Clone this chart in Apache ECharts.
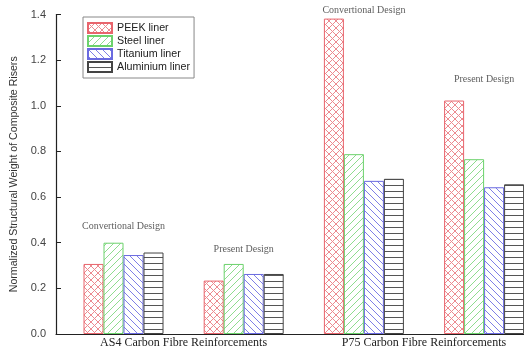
<!DOCTYPE html>
<html>
<head>
<meta charset="utf-8">
<script src="https://cdn.jsdelivr.net/npm/echarts@6/dist/echarts.min.js"></script>
<style>
  html, body { margin: 0; padding: 0; background: #fff; }
  #chart { width: 524px; height: 354px; }
</style>
</head>
<body>
<div id="chart"></div>
<script>
// Group positions along the x axis (one per design case)
const groupPositions = [0, 1, 2, 3];
const designNames = ['Convertional Design', 'Present Design', 'Convertional Design', 'Present Design'];

// Normalized structural weight per liner material
const peekLiner      = [0.307, 0.234, 1.382, 1.023];
const steelLiner     = [0.400, 0.307, 0.788, 0.766];
const titaniumLiner  = [0.346, 0.263, 0.671, 0.643];
const aluminiumLiner = [0.357, 0.263, 0.680, 0.656];

const seriesNames = ['PEEK liner', 'Steel liner', 'Titanium liner', 'Aluminium liner'];

// Fibre reinforcement captions under the axis
const fibreLabels = ['AS4 Carbon Fibre Reinforcements', 'P75 Carbon Fibre Reinforcements'];
const fibreLabelPositions = [0.5, 2.5];

const yTicks = { min: 0, max: 1.4, interval: 0.2 };

// Hatch fills drawn on small tiling canvases
function hatch(kind, color) {
  const s = kind === 'horizontal' ? 6 : 7;
  const c = document.createElement('canvas');
  c.width = s; c.height = s;
  const g = c.getContext('2d');
  g.fillStyle = '#fff';
  g.fillRect(0, 0, s, s);
  g.strokeStyle = color;
  g.lineWidth = 1;
  const fwd = () => {
    g.beginPath();
    g.moveTo(-1, s + 1); g.lineTo(s + 1, -1);
    g.moveTo(-1, 1); g.lineTo(1, -1);
    g.moveTo(s - 1, s + 1); g.lineTo(s + 1, s - 1);
    g.stroke();
  };
  const back = () => {
    g.beginPath();
    g.moveTo(-1, -1); g.lineTo(s + 1, s + 1);
    g.moveTo(s - 1, -1); g.lineTo(s + 1, 1);
    g.moveTo(-1, s - 1); g.lineTo(1, s + 1);
    g.stroke();
  };
  if (kind === 'cross') { fwd(); back(); }
  else if (kind === 'forward') fwd();
  else if (kind === 'back') back();
  else {
    g.beginPath();
    g.moveTo(0, s - 0.5); g.lineTo(s, s - 0.5);
    g.stroke();
  }
  return { image: c, repeat: 'repeat' };
}

const styles = [
  { fill: hatch('cross', '#ec8a90'),      border: '#e8646c' },
  { fill: hatch('forward', '#8fdc8f'),    border: '#6cd26c' },
  { fill: hatch('back', '#7f7fe6'),       border: '#6a6ae0' },
  { fill: hatch('horizontal', '#555555'), border: '#444444' }
];

const values = [peekLiner, steelLiner, titaniumLiner, aluminiumLiner];

const series = values.map((vals, i) => ({
  name: seriesNames[i],
  type: 'bar',
  barWidth: 20,
  barGap: '0%',
  data: groupPositions.map((x, k) => [x, vals[k]]),
  itemStyle: { color: styles[i].fill, borderColor: styles[i].border, borderWidth: 1 },
  emphasis: { disabled: true },
  animation: false
}));

// Design-case captions centred above each group
series.push({
  name: 'captions',
  type: 'scatter',
  symbolSize: 0,
  clip: false,
  silent: true,
  label: {
    show: true,
    position: 'inside',
    formatter: '{b}',
    color: '#333',
    fontFamily: 'Liberation Serif',
    fontSize: 10
  },
  data: [
    { name: designNames[0], value: [groupPositions[0], 0.47] },
    { name: designNames[1], value: [groupPositions[1], 0.37] },
    { name: designNames[2], value: [groupPositions[2], 1.42] },
    { name: designNames[3], value: [groupPositions[3], 1.114] }
  ]
});

const chart = echarts.init(document.getElementById('chart'));
chart.setOption({
  animation: false,
  backgroundColor: '#fff',
  grid: { left: 56, right: 0, top: 14.5, bottom: 20 },
  legend: {
    orient: 'vertical',
    left: 83,
    top: 17,
    padding: [5, 4, 5, 4],
    itemGap: 1,
    itemWidth: 24,
    itemHeight: 10,
    borderColor: '#888',
    borderWidth: 1,
    icon: 'rect',
    selectedMode: false,
    textStyle: { fontFamily: 'Liberation Sans', fontSize: 10.7, lineHeight: 12, color: '#222' },
    data: seriesNames
  },
  xAxis: {
    type: 'value',
    min: -0.5616,
    max: 3.332,
    splitLine: { show: false },
    axisTick: { show: false },
    axisLine: { show: true, onZero: false, lineStyle: { color: '#222', width: 1.2 } },
    axisLabel: {
      customValues: fibreLabelPositions,
      formatter: v => fibreLabels[fibreLabelPositions.indexOf(v)] || '',
      fontFamily: 'Liberation Serif',
      fontSize: 12,
      color: '#222',
      margin: 3
    }
  },
  yAxis: {
    type: 'value',
    min: yTicks.min,
    max: yTicks.max,
    interval: yTicks.interval,
    name: 'Normalized Structural Weight of Composite Risers',
    nameLocation: 'middle',
    nameGap: 33,
    nameTextStyle: { fontFamily: 'Liberation Sans', fontSize: 10.6, color: '#333' },
    splitLine: { show: false },
    axisLine: { show: true, onZero: false, lineStyle: { color: '#222', width: 1.2 } },
    axisTick: { show: true, inside: true, length: 5, lineStyle: { color: '#222' } },
    axisLabel: {
      formatter: v => v.toFixed(1),
      fontFamily: 'Liberation Sans',
      fontSize: 11,
      color: '#444',
      margin: 10
    }
  },
  series: series
});
</script>
</body>
</html>
